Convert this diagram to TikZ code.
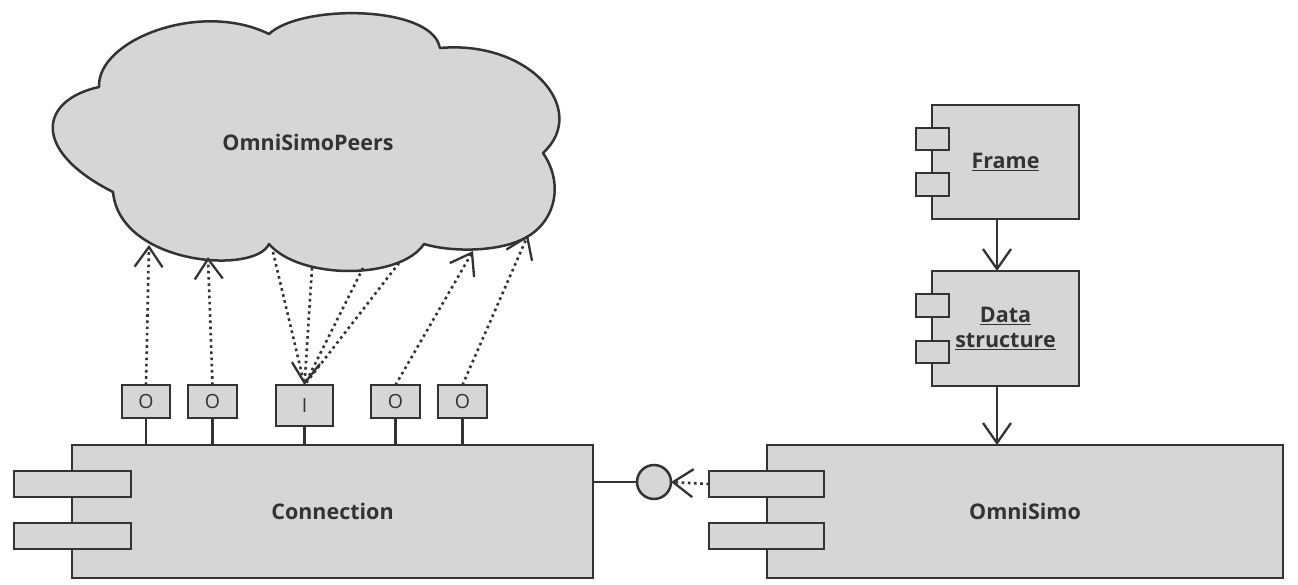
\documentclass[tikz,border=0pt]{standalone}
\usepackage{fontspec}
\setmainfont{Open Sans}
\usetikzlibrary{arrows.meta}
\definecolor{ink}{HTML}{333333}
\definecolor{boxfill}{HTML}{D6D6D6}
\begin{document}
\begin{tikzpicture}[x=1pt,y=-1pt,color=ink,
  base/.style={draw=ink,fill=boxfill,line width=2.5pt,outer sep=0pt,inner sep=0pt},
  comp/.style={base,anchor=north west,font=\fontsize{21.5}{25}\selectfont\bfseries,align=center},
  tabbox/.style={base,anchor=north west},
  portbox/.style={base,anchor=north west,font=\fontsize{19.5}{20}\selectfont},
  wire/.style={draw=ink,line width=2.2pt},
  dep/.style={draw=ink,line width=2.6pt,dash pattern=on 2.6pt off 3.6pt},
  barb/.tip={Straight Barb[length=20pt,width=28pt,line width=2.3pt]},
  solidarrow/.style={draw=ink,line width=2.4pt,-{barb}}]
\useasboundingbox (0,0) rectangle (1298,585);

% peer cloud
\draw[base,line join=round]
  (269,34) .. controls (300,5) and (420,5) .. (438,42) -- (440,48)
  .. controls (530,40) and (590,110) .. (543,153)
  .. controls (565,185) and (555,225) .. (521,240)
  .. controls (495,252) and (450,252) .. (424,244)
  .. controls (400,280) and (300,280) .. (269,244)
  .. controls (255,275) and (120,265) .. (113,192)
  .. controls (30,150) and (40,100) .. (99,87)
  .. controls (97,40) and (200,0) .. (269,34) -- cycle;
\node[font=\fontsize{21.5}{25}\selectfont\bfseries] (peers) at (308,142) {OmniSimoPeers};

% points on the cloud rim
\coordinate (c1) at (149,245);
\coordinate (c2) at (208,257);
\coordinate (c3) at (273,252);
\coordinate (c4) at (312,268);
\coordinate (c5) at (363,268);
\coordinate (c6) at (399,263);
\coordinate (c7) at (473,251);
\coordinate (c8) at (528,235);

% Connection component
\node[comp,minimum width=521pt,minimum height=133pt] (conn) at (72,445) {Connection};
\node[tabbox,minimum width=117pt,minimum height=26pt] (ctab1) at (14,471) {};
\node[tabbox,minimum width=117pt,minimum height=26pt] (ctab2) at (14,523) {};

% OmniSimo component
\node[comp,minimum width=516pt,minimum height=133pt] (omni) at (767,445) {OmniSimo};
\node[tabbox,minimum width=115pt,minimum height=26pt] (otab1) at (709,471) {};
\node[tabbox,minimum width=115pt,minimum height=26pt] (otab2) at (709,523) {};

% Frame and Data structure components
\node[comp,minimum width=147pt,minimum height=114pt] (frame) at (932,105) {\underline{Frame}};
\node[tabbox,minimum width=33pt,minimum height=22pt] (ftab1) at (916,128) {};
\node[tabbox,minimum width=33pt,minimum height=23pt] (ftab2) at (916,173) {};
\node[comp,minimum width=147pt,minimum height=115pt] (data) at (932,271) {\underline{Data}\\\underline{structure}};
\node[tabbox,minimum width=33pt,minimum height=23pt] (dtab1) at (916,294) {};
\node[tabbox,minimum width=33pt,minimum height=22pt] (dtab2) at (916,341) {};

% ports on Connection
\node[portbox,minimum width=48pt,minimum height=33pt] (p1) at (122,385) {O};
\node[portbox,minimum width=49pt,minimum height=33pt] (p2) at (188,385) {O};
\node[portbox,minimum width=57pt,minimum height=41pt] (p3) at (276,385) {I};
\node[portbox,minimum width=49pt,minimum height=33pt] (p4) at (371,385) {O};
\node[portbox,minimum width=49pt,minimum height=33pt] (p5) at (438,385) {O};
\foreach \p in {p1,p2,p3,p4,p5}
  \draw[wire] (\p.south) -- (\p.south |- conn.north);

% dependencies between ports and peers
\draw[dep,-{barb}] (p1.north) -- (c1);
\draw[dep,-{barb}] (p2.north) -- (c2);
\draw[dep] (c3) -- (p3.north);
\draw[dep,-{barb}] (c4) -- (p3.north);
\draw[dep] (c5) -- (p3.north);
\draw[dep] (c6) -- (p3.north);
\draw[dep,-{barb}] (p4.north) -- (c7);
\draw[dep,-{barb}] (p5.north) -- (c8);

% provided interface of Connection used by OmniSimo
\node[base,circle,minimum size=34pt] (iface) at (654,482) {};
\draw[wire] (conn.east |- iface.west) -- (iface.west);
\draw[dep,-{barb}] (otab1.west) -- (iface.east);

% Frame -> Data structure -> OmniSimo
\coordinate (ax) at (997,0);
\draw[solidarrow] (frame.south -| ax) -- (data.north -| ax);
\draw[solidarrow] (data.south -| ax) -- (omni.north -| ax);
\end{tikzpicture}
\end{document}
